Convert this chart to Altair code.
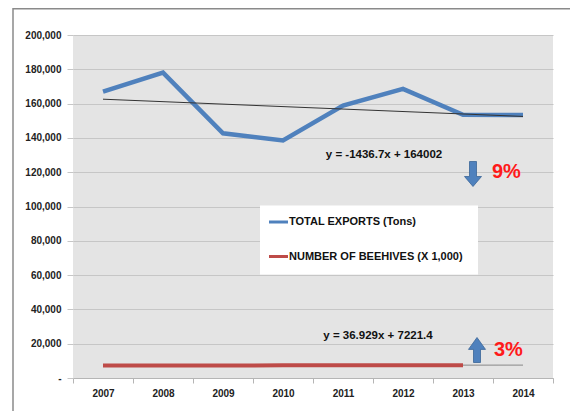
import altair as alt
import pandas as pd

# ---- data ----
years = ["2007", "2008", "2009", "2010", "2011", "2012", "2013", "2014"]
exports_tons = [167000, 178100, 142700, 138500, 158900, 168600, 153500, 153300]
hive_years = ["2007", "2008", "2009", "2010", "2011", "2012", "2013"]
beehives_k = [7290, 7310, 7330, 7380, 7420, 7400, 7450]
trend_years = ["2007", "2014"]
exports_trend = [162565, 152508]
hives_trend = [7258, 7517]
y_ticks = [0, 20000, 40000, 60000, 80000, 100000, 120000, 140000, 160000, 180000, 200000]

eq_exports = "y = -1436.7x + 164002"
eq_hives = "y = 36.929x + 7221.4"
pct_exports = "9%"
pct_hives = "3%"
legend_labels = ["TOTAL EXPORTS (Tons)", "NUMBER OF BEEHIVES (X 1,000)"]

BLUE = "#4f81bd"
RED = "#be4b48"
FONT = "Liberation Sans"

df_exp = pd.DataFrame({"year": years, "value": exports_tons})
df_hive = pd.DataFrame({"year": hive_years, "value": beehives_k})
df_tr_exp = pd.DataFrame({"year": trend_years, "value": exports_trend})
df_tr_hive = pd.DataFrame({"year": trend_years, "value": hives_trend})
one = pd.DataFrame({"k": [0]})

xscale = alt.Scale(type="band", domain=years, paddingInner=0, paddingOuter=0)
yscale = alt.Scale(domain=[0, 200000], nice=False)

x_axis = alt.Axis(
    title=None, labelAngle=0, tickBand="extent", grid=False,
    domainColor="#b5b5b5", tickColor="#b5b5b5", tickSize=5,
    labelFont=FONT, labelFontWeight="bold", labelFontSize=10,
    labelColor="#222", labelPadding=5,
)
y_axis = alt.Axis(
    title=None, values=y_ticks, domain=False, labelOverlap=False,
    labelExpr="datum.value == 0 ? '-' : format(datum.value, ',')",
    gridColor="#c6c6c6", gridWidth=1.2, tickColor="#c6c6c6", tickSize=6,
    labelFont=FONT, labelFontWeight="bold", labelFontSize=10,
    labelColor="#222", labelPadding=6,
)

XE = alt.X("year:O", scale=xscale, bandPosition=0.5, axis=x_axis)
YE = alt.Y("value:Q", scale=yscale, axis=y_axis)

exports_line = alt.Chart(df_exp).mark_line(color=BLUE, strokeWidth=4.5).encode(x=XE, y=YE)
exports_tr = alt.Chart(df_tr_exp).mark_line(color="#333333", strokeWidth=1).encode(x=XE, y=YE)
hive_tr = alt.Chart(df_tr_hive).mark_line(color="#9a9a9a", strokeWidth=1.3).encode(x=XE, y=YE)
hive_line = alt.Chart(df_hive).mark_line(color=RED, strokeWidth=4).encode(x=XE, y=YE)

# legend (drawn manually, white box inside the plot)
leg_box = alt.Chart(one).mark_rect(color="white").encode(
    x=alt.value(187), x2=alt.value(405), y=alt.value(170.5), y2=alt.value(239.5))
leg_sym1 = alt.Chart(one).mark_rule(color=BLUE, strokeWidth=3).encode(
    x=alt.value(196), x2=alt.value(215), y=alt.value(187))
leg_sym2 = alt.Chart(one).mark_rule(color=RED, strokeWidth=3).encode(
    x=alt.value(196), x2=alt.value(215), y=alt.value(221.5))
leg_txt1 = alt.Chart(one).mark_text(
    align="left", baseline="middle", font=FONT, fontWeight="bold", fontSize=11,
    color="#111", text=legend_labels[0]).encode(x=alt.value(216), y=alt.value(187))
leg_txt2 = alt.Chart(one).mark_text(
    align="left", baseline="middle", font=FONT, fontWeight="bold", fontSize=11,
    color="#111", text=legend_labels[1]).encode(x=alt.value(216), y=alt.value(221.5))

# equations
eq1 = alt.Chart(one).mark_text(
    align="center", baseline="middle", font=FONT, fontWeight="bold", fontSize=11.5,
    color="#111", text=eq_exports).encode(x=alt.value(311), y=alt.value(120))
eq2 = alt.Chart(one).mark_text(
    align="center", baseline="middle", font=FONT, fontWeight="bold", fontSize=11.5,
    color="#111", text=eq_hives).encode(x=alt.value(305), y=alt.value(300.5))

# arrows
down_path = "M-0.28,-1 L0.28,-1 L0.28,0.2 L0.68,0.2 L0,1 L-0.68,0.2 L-0.28,0.2 Z"
up_path = "M-0.28,1 L0.28,1 L0.28,-0.05 L0.68,-0.05 L0,-1 L-0.68,-0.05 L-0.28,-0.05 Z"
arrow_down = alt.Chart(one).mark_point(
    shape=down_path, size=625, filled=True, fill="#4f81bd", stroke="#3a6597",
    strokeWidth=0.8, opacity=1).encode(x=alt.value(400), y=alt.value(139))
arrow_up = alt.Chart(one).mark_point(
    shape=up_path, size=625, filled=True, fill="#4f81bd", stroke="#3a6597",
    strokeWidth=0.8, opacity=1).encode(x=alt.value(404), y=alt.value(315))

pct1 = alt.Chart(one).mark_text(
    align="left", baseline="middle", font=FONT, fontWeight="bold", fontSize=20,
    color="#ff1a1a", text=pct_exports).encode(x=alt.value(419), y=alt.value(137))
pct2 = alt.Chart(one).mark_text(
    align="left", baseline="middle", font=FONT, fontWeight="bold", fontSize=20,
    color="#ff1a1a", text=pct_hives).encode(x=alt.value(421), y=alt.value(315))

# outer frame (left and top border of the slide image)
frame_left = alt.Chart(one).mark_rule(color="#8a8a8a", strokeWidth=1.5).encode(
    x=alt.value(-60), y=alt.value(-27), y2=alt.value(376))
frame_top = alt.Chart(one).mark_rule(color="#8a8a8a", strokeWidth=1.5).encode(
    x=alt.value(-60), x2=alt.value(497), y=alt.value(-26.3))

chart = alt.layer(
    exports_line, exports_tr, hive_tr, hive_line,
    leg_box, leg_sym1, leg_sym2, leg_txt1, leg_txt2,
    eq1, eq2, arrow_down, arrow_up, pct1, pct2,
    frame_left, frame_top,
).properties(
    width=480, height=343,
    autosize=alt.AutoSizeParams(type="none"),
    padding={"left": 65, "top": 27, "right": 17, "bottom": 33},
    background="white",
).configure_view(fill="#e4e4e4", stroke=None)

chart.save("out.html", embed_options={"renderer": "svg", "actions": False})
